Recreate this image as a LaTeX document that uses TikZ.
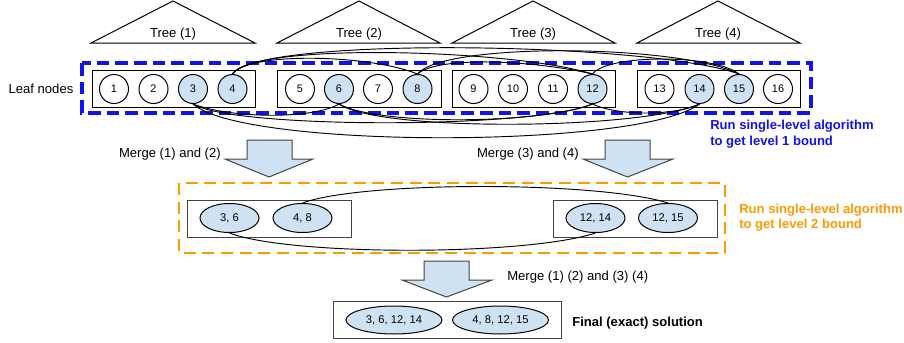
\documentclass[tikz,border=0pt]{standalone}
\usepackage{fontspec}
\setmainfont{Liberation Sans}
\usepackage{xcolor}
\usetikzlibrary{shapes.geometric}

\definecolor{cellblue}{RGB}{207,226,243}
\definecolor{runblue}{RGB}{18,18,235}
\definecolor{runorange}{RGB}{255,153,0}
\definecolor{edgegray}{RGB}{67,67,67}

\begin{document}
\begin{tikzpicture}[x=0.75pt,y=0.75pt,yscale=-1,xscale=1,
  label text/.style={inner sep=0.75pt, font=\fontsize{9.8}{11.8}\selectfont},
  note text/.style={inner sep=0.75pt, align=left, font=\bfseries\fontsize{9.8}{11.6}\selectfont},
  leaf/.style={circle, draw, line width=0.75pt, minimum size=21.75pt, inner sep=0pt, fill=white, font=\fontsize{8.2}{10}\selectfont},
  picked/.style={leaf, fill=cellblue},
  pairset/.style={ellipse, draw, line width=0.75pt, fill=cellblue, minimum width=44.25pt, minimum height=21.75pt, inner sep=0pt, font=\fontsize{8.4}{10}\selectfont},
  quadset/.style={pairset, minimum width=72pt, minimum height=21pt},
  group box/.style={draw, line width=0.75pt},
  merge arrow/.style={draw=edgegray, fill=cellblue, line width=0.75pt, line join=miter},
  link/.style={draw, line width=0.7pt}
]
\useasboundingbox (0,0) rectangle (904,343);

%Shape: Triangles (trees)
\draw [line width=0.75pt] (91,43) -- (173,1) -- (255,43) -- cycle ;
\draw [line width=0.75pt] (277,43) -- (359,1) -- (440,43) -- cycle ;
\draw [line width=0.75pt] (452,43) -- (533,1) -- (615,43) -- cycle ;
\draw [line width=0.75pt] (637,43) -- (718,1) -- (800,43) -- cycle ;

% Text Node
\draw (173,34) node [label text] (tree1) {Tree (1)};
\draw (359,34) node [label text] (tree2) {Tree (2)};
\draw (533,34) node [label text] (tree3) {Tree (3)};
\draw (718,34) node [label text] (tree4) {Tree (4)};

%Shape: Dashed Rectangle (level 1)
\draw [runblue, line width=2.4pt, dash pattern=on 9.5pt off 4.5pt] (82,63) rectangle (811,113) ;

%Shape: Rectangles (leaf groups)
\draw [group box] (92,70) rectangle (255,107) ;
\draw [group box] (277,70) rectangle (441,107) ;
\draw [group box] (452,70) rectangle (615,107) ;
\draw [group box] (637,70) rectangle (800,107) ;

% Text Node
\draw (41,89) node [label text] (leaflabel) {Leaf nodes};

%Shape: Circles (leaves)
\draw (114,89) node [leaf] (n1) {1};
\draw (153.5,89) node [leaf] (n2) {2};
\draw (193,89) node [picked] (n3) {3};
\draw (232.5,89) node [picked] (n4) {4};
\draw (300,89) node [leaf] (n5) {5};
\draw (339,89) node [picked] (n6) {6};
\draw (378,89) node [leaf] (n7) {7};
\draw (417.5,89) node [picked] (n8) {8};
\draw (473.5,89) node [leaf] (n9) {9};
\draw (513,89) node [leaf] (n10) {10};
\draw (553,89) node [leaf] (n11) {11};
\draw (592.5,89) node [picked] (n12) {12};
\draw (659.5,89) node [leaf] (n13) {13};
\draw (699.5,89) node [picked] (n14) {14};
\draw (739,89) node [picked] (n15) {15};
\draw (778,89) node [leaf] (n16) {16};

%Curve Lines (top, 4 8 12 15)
\draw [link] (n4.north) .. controls +(15,-22) and +(-50,-20) .. (n8.north) ;
\draw [link] (n4.north) .. controls +(20,-32) and +(-80,-25) .. (n12.north) ;
\draw [link] (n4.north) .. controls +(25,-38) and +(-90,-32) .. (n15.north) ;
\draw [link] (n8.north) .. controls +(20,-18) and +(-60,-14) .. (n12.north) ;
\draw [link] (n8.north) .. controls +(25,-32) and +(-60,-30) .. (n15.north) ;
\draw [link] (n12.north) .. controls +(15,-20) and +(-25,-20) .. (n15.north) ;
%Curve Lines (bottom, 3 6 12 14)
\draw [link] (n3.south) .. controls +(40,15) and +(-25,15) .. (n6.south) ;
\draw [link] (n3.south) .. controls +(40,25) and +(-60,25) .. (n12.south) ;
\draw [link] (n3.south) .. controls +(50,45) and +(-60,45) .. (n14.south) ;
\draw [link] (n6.south) .. controls +(40,22) and +(-50,20) .. (n12.south) ;
\draw [link] (n6.south) .. controls +(40,28) and +(-60,26) .. (n14.south) ;
\draw [link] (n12.south) .. controls +(25,12) and +(-25,12) .. (n14.south) ;

% Text Node
\draw (709,134) node [note text, anchor=west, text=runblue] (level1note) {Run single-level algorithm\\to get level 1 bound};

%Shape: Block Arrows (merge)
\draw [merge arrow] (247,140) -- (292,140) -- (292,159) -- (313,159) -- (269,177) -- (225,159) -- (247,159) -- cycle ;
\draw [merge arrow] (605,140) -- (650,140) -- (650,159) -- (673,159) -- (627.5,177) -- (583,159) -- (605,159) -- cycle ;

% Text Node
\draw (222,154) node [label text, anchor=east] (merge12) {Merge (1) and (2)};
\draw (580,154) node [label text, anchor=east] (merge34) {Merge (3) and (4)};

%Shape: Dashed Rectangle (level 2)
\draw [runorange, line width=2pt, dash pattern=on 9pt off 5pt] (179,183) rectangle (725,253) ;

%Shape: Rectangles (level 2 groups)
\draw [group box, draw=edgegray] (187,200) rectangle (351,237) ;
\draw [group box, draw=edgegray] (553,200) rectangle (717,237) ;

%Shape: Ellipses (level 2)
\draw (229.5,218) node [pairset] (p36) {3, 6};
\draw (302.5,218) node [pairset] (p48) {4, 8};
\draw (595.5,218) node [pairset] (p1214) {12, 14};
\draw (668,218) node [pairset] (p1215) {12, 15};

%Curve Lines (level 2)
\draw [link] (p48.north) .. controls +(60,-22) and +(-70,-22) .. (p1215.north) ;
\draw [link] (p36.south) .. controls +(60,23) and +(-70,23) .. (p1214.south) ;

% Text Node
\draw (738,217.5) node [note text, anchor=west, text=runorange] (level2note) {Run single-level algorithm\\to get level 2 bound};

%Shape: Block Arrow (final merge)
\draw [merge arrow] (424,261) -- (469,261) -- (469,280) -- (492,280) -- (446.5,297) -- (402,280) -- (424,280) -- cycle ;

% Text Node
\draw (506,277) node [label text, anchor=west] (mergeall) {Merge (1) (2) and (3) (4)};

%Shape: Rectangle (final)
\draw [group box, draw=edgegray] (333,301) rectangle (561,338) ;

%Shape: Ellipses (final)
\draw (394,320) node [quadset] (q1) {3, 6, 12, 14};
\draw (500.5,320) node [quadset] (q2) {4, 8, 12, 15};

% Text Node
\draw (571,323) node [note text, anchor=west] (finalnote) {Final (exact) solution};

\end{tikzpicture}
\end{document}
